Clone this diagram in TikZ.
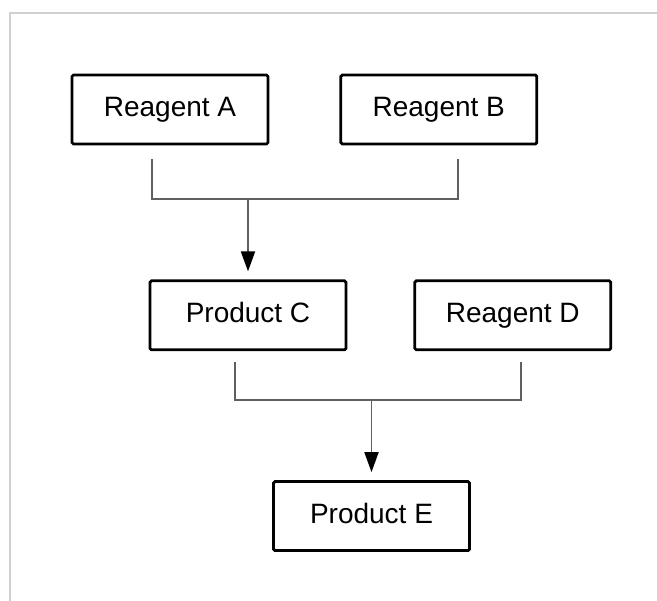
\documentclass[tikz,border=0pt]{standalone}
\usepackage{fontspec}
\setmainfont{Liberation Sans}
\usepackage{xcolor}
\usepackage{tikz}
\usetikzlibrary{positioning,arrows.meta,calc}
\definecolor{linkgray}{RGB}{96,96,96}
\definecolor{framegray}{RGB}{208,208,208}
\tikzset{
  box/.style   = {draw=black, line width=2.8pt, rounded corners=1.5pt, align=center, minimum width=196pt, minimum height=69pt, inner sep=0pt, text height=20pt, text depth=5pt, font=\fontsize{28}{32}\selectfont},
  link/.style  = {draw=linkgray, line width=1.8pt},
  flow/.style  = {link, -{Triangle[length=20pt,width=14pt,color=black]}, shorten >=8pt},
}
\begin{document}
\begin{tikzpicture}[x=1pt, y=-1pt]
  \useasboundingbox (0,0) rectangle (657,601);
  % light frame, top and left only
  \draw[framegray, line width=2pt] (10,601) -- (10,13) -- (657,13);

  \node[box] (rA) at (170,109.5) {Reagent A};
  \node[box, right=70pt of rA] (rB) {Reagent B};
  \node[box, below=134pt of rA, xshift=78pt] (pC) {Product C};
  \node[box, right=66pt of pC] (rD) {Reagent D};
  \node[box, below=129pt of pC, xshift=123.5pt] (pE) {Product E};

  % A + B -> C
  \coordinate (a1) at ([xshift=-18pt,yshift=-14pt]rA.south);
  \coordinate (b1) at ([xshift=19.5pt,yshift=-14pt]rB.south);
  \coordinate (barAB) at ([yshift=-40pt]a1);
  \coordinate (jAB) at (pC.north |- barAB);
  \draw[link] (a1) |- (jAB) -| (b1);
  \draw[flow] (jAB) -- (pC.north);

  % C + D -> E
  \coordinate (a2) at ([xshift=-13pt,yshift=-11pt]pC.south);
  \coordinate (b2) at ([xshift=8pt,yshift=-11pt]rD.south);
  \coordinate (barCD) at ([yshift=-38pt]a2);
  \coordinate (jCD) at (pE.north |- barCD);
  \draw[link] (a2) |- (jCD) -| (b2);
  \draw[flow] (jCD) -- (pE.north);
\end{tikzpicture}
\end{document}
